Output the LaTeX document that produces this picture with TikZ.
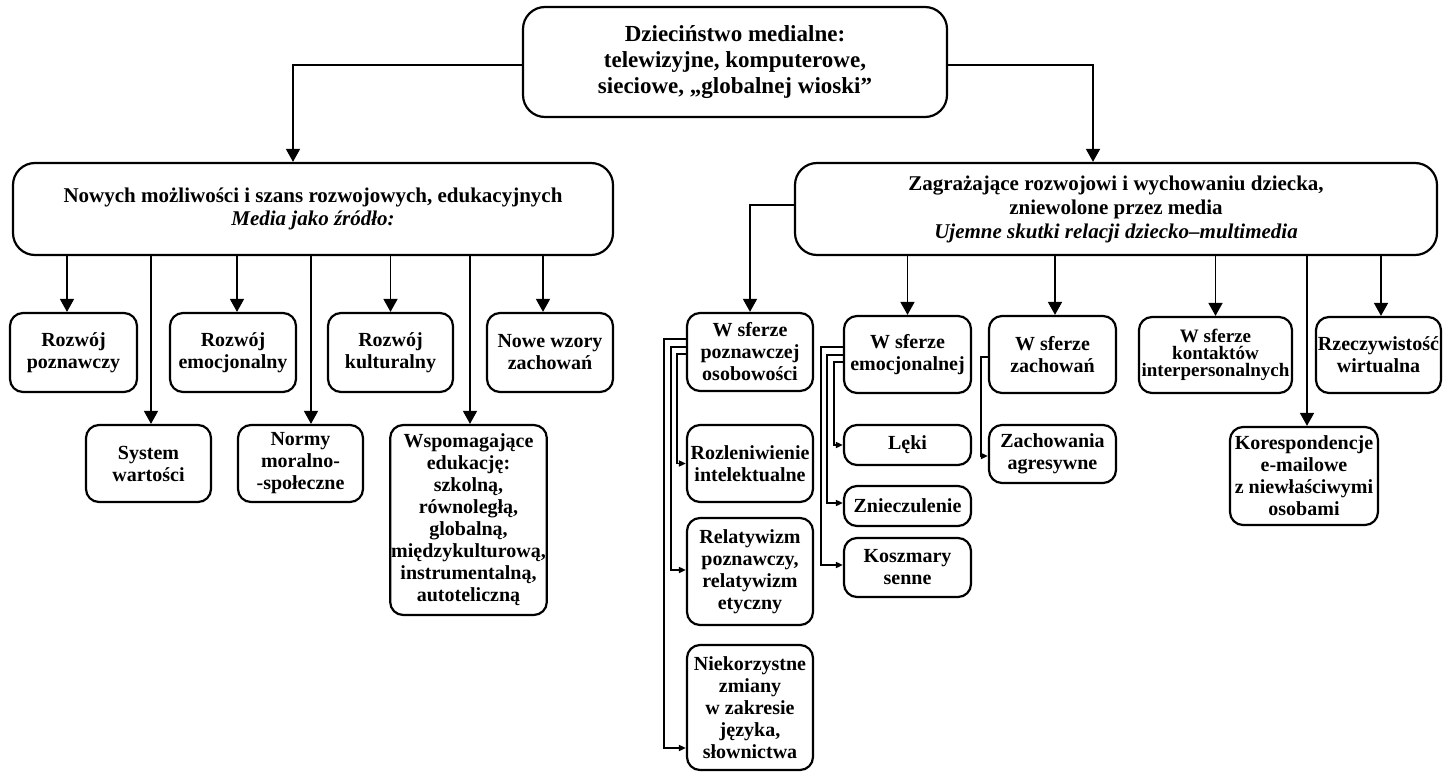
\documentclass[tikz,border=0pt]{standalone}
\usepackage{fontspec}
\setmainfont{Liberation Serif}
\usetikzlibrary{arrows.meta,positioning,calc}
\tikzset{
topbox/.style={draw,line width=2.2pt,rounded corners=22pt,align=center,font=\bfseries\fontsize{23}{26}\selectfont},
mainbox/.style={draw,line width=2.2pt,rounded corners=22pt,align=center,font=\bfseries\fontsize{21}{23}\selectfont},
leaf/.style={draw,line width=2.2pt,rounded corners=13pt,align=center,inner sep=1pt,font=\bfseries\fontsize{20}{22}\selectfont},
arr/.style={-{Triangle[length=13pt,width=14pt]},line width=1.6pt},
barr/.style={-{Triangle[length=7pt,width=6pt]},line width=1.6pt}
}
\begin{document}
\begin{tikzpicture}[x=1pt,y=-1pt]
\path[use as bounding box](0,0)rectangle(1443,773);
% top and the two main branches
\node[topbox,minimum width=424pt,minimum height=110pt](root)at(735,62){Dzieciństwo medialne:\\telewizyjne, komputerowe,\\sieciowe, „globalnej wioski”};
\node[mainbox,minimum width=600pt,minimum height=92pt](nowych)at(313,209){Nowych możliwości i szans rozwojowych, edukacyjnych\\\textit{Media jako źródło:}};
\node[mainbox,minimum width=642pt,minimum height=92pt,font=\bfseries\fontsize{21}{24}\selectfont](zagr)at(1116,209){Zagrażające rozwojowi i wychowaniu dziecka,\\zniewolone przez media\\\textit{Ujemne skutki relacji dziecko–multimedia}};
% left side
\node[leaf,minimum width=127pt,minimum height=79pt](rpozn)at(73.5,352.5){Rozwój\\poznawczy};
\node[leaf,minimum width=126pt,minimum height=79pt](remoc)at(233,352.5){Rozwój\\emocjonalny};
\node[leaf,minimum width=125pt,minimum height=79pt](rkult)at(390.5,352.5){Rozwój\\kulturalny};
\node[leaf,minimum width=126pt,minimum height=79pt](nowe)at(550,352.5){Nowe wzory\\zachowań};
\node[leaf,minimum width=125pt,minimum height=77pt](system)at(148.5,463.5){System\\wartości};
\node[leaf,minimum width=125pt,minimum height=77pt](normy)at(300.5,463.5){Normy\\moralno-\\-społeczne};
\node[leaf,minimum width=151pt,minimum height=190pt](wspom)at(468.5,520){Wspomagające\\edukację:\\szkolną,\\równoległą,\\globalną,\\międzykulturową,\\instrumentalną,\\autoteliczną};
% right side
\node[leaf,minimum width=126pt,minimum height=78pt](wpozn)at(750,352){W sferze\\poznawczej\\osobowości};
\node[leaf,minimum width=126pt,minimum height=77pt](rozlen)at(750,463.5){Rozleniwienie\\intelektualne};
\node[leaf,minimum width=126pt,minimum height=107pt](relat)at(750,571.5){Relatywizm\\poznawczy,\\relatywizm\\etyczny};
\node[leaf,minimum width=126pt,minimum height=125pt](niekorz)at(750,707.5){Niekorzystne\\zmiany\\w zakresie\\języka,\\słownictwa};
\node[leaf,minimum width=127pt,minimum height=77pt](wemoc)at(907.5,354.5){W sferze\\emocjonalnej};
\node[leaf,minimum width=127pt,minimum height=40pt](leki)at(907.5,445){Lęki};
\node[leaf,minimum width=127pt,minimum height=40pt](znieczul)at(907.5,506){Znieczulenie};
\node[leaf,minimum width=127pt,minimum height=59pt](koszm)at(907.5,567.5){Koszmary\\senne};
\node[leaf,minimum width=127pt,minimum height=77pt](wzach)at(1052.5,354.5){W sferze\\zachowań};
\node[leaf,minimum width=127pt,minimum height=58pt](agres)at(1052.5,454){Zachowania\\agresywne};
\node[leaf,minimum width=153pt,minimum height=76pt,font=\bfseries\fontsize{19}{17}\selectfont](wkont)at(1215.5,355){W sferze\\kontaktów\\interpersonalnych};
\node[leaf,minimum width=148pt,minimum height=98pt](koresp)at(1304,476){Korespondencje\\e-mailowe\\z niewłaściwymi\\osobami};
\node[leaf,minimum width=125pt,minimum height=76pt](wirt)at(1378.5,355){Rzeczywistość\\wirtualna};
% arrows from the top
\draw[arr]([yshift=-3pt]root.west)-|([xshift=-20pt]nowych.north);
\draw[arr]([yshift=-3pt]root.east)-|([xshift=-23pt]zagr.north);
% arrows on the left
\draw[arr]([xshift=-6.5pt]rpozn.north|-nowych.south)--([xshift=-6.5pt]rpozn.north);
\draw[arr]([xshift=2.5pt]system.north|-nowych.south)--([xshift=2.5pt]system.north);
\draw[arr]([xshift=4pt]remoc.north|-nowych.south)--([xshift=4pt]remoc.north);
\draw[arr]([xshift=10.5pt]normy.north|-nowych.south)--([xshift=10.5pt]normy.north);
\draw[arr](rkult.north|-nowych.south)--(rkult.north);
\draw[arr]([xshift=1.5pt]wspom.north|-nowych.south)--([xshift=1.5pt]wspom.north);
\draw[arr]([xshift=-7pt]nowe.north|-nowych.south)--([xshift=-7pt]nowe.north);
% arrows on the right
\draw[arr]([yshift=4pt]zagr.west)-|(wpozn.north);
\draw[arr](wemoc.north|-zagr.south)--(wemoc.north);
\draw[arr]([xshift=2.5pt]wzach.north|-zagr.south)--([xshift=2.5pt]wzach.north);
\draw[arr](wkont.north|-zagr.south)--(wkont.north);
\draw[arr]([xshift=3pt]koresp.north|-zagr.south)--([xshift=3pt]koresp.north);
\draw[arr]([xshift=2.5pt]wirt.north|-zagr.south)--([xshift=2.5pt]wirt.north);
% brackets
\draw[barr]([yshift=13pt]wpozn.west)--++(-22pt,0)|-([yshift=-40.5pt]niekorz.west);
\draw[barr]([yshift=5pt]wpozn.west)--++(-15pt,0)|-([yshift=1.5pt]relat.west);
\draw[barr]([yshift=-2pt]wpozn.west)--++(-9pt,0)|-(rozlen.west);
\draw[barr]([yshift=7.5pt]wemoc.west)--++(-22pt,0)|-([yshift=2.5pt]koszm.west);
\draw[barr]([yshift=-0.5pt]wemoc.west)--++(-16pt,0)|-([yshift=3pt]znieczul.west);
\draw[barr]([yshift=-7.5pt]wemoc.west)--++(-9pt,0)|-(leki.west);
\draw[barr]([yshift=-2.5pt]wzach.west)--++(-7pt,0)|-([yshift=-2pt]agres.west);
\end{tikzpicture}
\end{document}
